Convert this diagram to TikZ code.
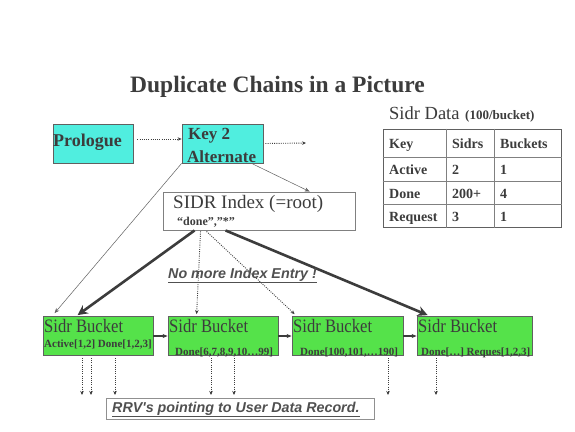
\documentclass[tikz,border=0pt]{standalone}
\usepackage{graphicx}
\usepackage{fontspec}
\setmainfont{Liberation Serif}
\newfontfamily\arialfont{Liberation Sans}
\usetikzlibrary{arrows.meta,calc}
\definecolor{txt}{HTML}{3C3C3C}
\definecolor{cyanfill}{HTML}{50EEDF}
\definecolor{greenfill}{HTML}{55E24A}
\definecolor{edge}{HTML}{606060}
\tikzset{
  cbox/.style={draw=edge, line width=0.8pt, fill=cyanfill, inner sep=0pt},
  gbox/.style={draw=edge, line width=0.8pt, fill=greenfill, inner sep=0pt, minimum height=39pt},
  wbox/.style={draw=edge!80, line width=0.9pt, fill=white, inner sep=0pt},
  lbl/.style={text=txt, inner sep=0pt, anchor=base west},
  btitle/.style={lbl, font=\fontsize{19}{20}\selectfont},
  bsub/.style={lbl, font=\fontsize{11}{12}\selectfont\bfseries},
  tcell/.style={lbl, font=\fontsize{14}{15}\selectfont\bfseries},
  dotarrow/.style={draw=txt, line width=0.9pt, dash pattern=on 0.9pt off 1.3pt, -{Stealth[length=4pt,width=3.5pt]}},
  thinarrow/.style={draw=edge, line width=0.5pt, -{Stealth[length=5pt,width=4pt]}},
  thickarrow/.style={draw=txt, line width=2.6pt, -{Stealth[length=10pt,width=10pt]}},
  linkarrow/.style={draw=txt, line width=1.3pt, -{Stealth[length=5pt,width=4pt]}},
  note/.style={lbl, text=txt!90, font=\arialfont\fontsize{14.3}{15}\selectfont\bfseries\itshape}
}
\newcommand{\bucketname}{\scalebox{0.875}[1]{Sidr Bucket}}
\begin{document}
\begin{tikzpicture}[x=1pt,y=-1pt]
\useasboundingbox[fill=white] (0,0) rectangle (575,431);

% title
\node[text=txt, inner sep=0pt, anchor=base, font=\fontsize{23.5}{25}\selectfont\bfseries] (title) at (277.5,92.7) {Duplicate Chains in a Picture};

% top boxes
\node[cbox, minimum width=80pt, minimum height=39pt] (pro) at (93,143.5) {};
\node[lbl, font=\fontsize{18}{19}\selectfont\bfseries] (prot) at (53,146) {Prologue};
\node[cbox, minimum width=81pt, minimum height=39pt] (key) at (222.5,143.5) {};
\node[lbl, font=\fontsize{17}{18}\selectfont\bfseries] (keyt1) at (188,139) {Key 2};
\node[lbl, font=\fontsize{17}{18}\selectfont\bfseries] (keyt2) at (187,162) {Alternate};

\coordinate (keyout) at (306,143);
\draw[dotarrow] ($(pro.east)+(4,-4.5)$) -- ($(key.west)+(0,-4.5)$);
\draw[dotarrow] ($(key.east)+(2,0)$) -- (keyout);

% SIDR index
\node[wbox, minimum width=192pt, minimum height=38pt] (sidx) at (259,211) {};
\node[lbl, font=\fontsize{19}{20}\selectfont] (sidxt) at (173,208) {SIDR Index (=root)};
\node[lbl, font=\fontsize{12}{13}\selectfont\bfseries] (sidxk) at (177,225) {“done”,”*”};

% Sidr data table
\node[lbl, font=\fontsize{18.5}{19}\selectfont] (sdt) at (389,119) {Sidr Data};
\node[lbl, font=\fontsize{13}{14}\selectfont\bfseries] (sdb) at (465,119) {(100/bucket)};
\node[draw=edge, line width=1pt, fill=white, inner sep=0pt, minimum width=178pt, minimum height=98pt] (tbl) at (472,178) {};
\foreach \yy in {157,181,204}{ \draw[edge!80, line width=0.7pt] (tbl.west |- 0,\yy) -- (tbl.east |- 0,\yy); }
\foreach \xx in {446,494}{ \draw[edge!80, line width=0.7pt] (tbl.north -| \xx,0) -- (tbl.south -| \xx,0); }
\node[tcell] (h1) at (389,148) {Key};
\node[tcell] (h2) at (452,148) {Sidrs};
\node[tcell] (h3) at (500,148) {Buckets};
\node[tcell] (r11) at (389,174) {Active};
\node[tcell] (r12) at (452,174) {2};
\node[tcell] (r13) at (500,174) {1};
\node[tcell] (r21) at (389,198) {Done};
\node[tcell] (r22) at (452,198) {200+};
\node[tcell] (r23) at (500,198) {4};
\node[tcell] (r31) at (389,221) {Request};
\node[tcell] (r32) at (452,221) {3};
\node[tcell] (r33) at (500,221) {1};

% buckets
\node[gbox, minimum width=110pt] (b1) at (98,336) {};
\node[gbox, minimum width=110pt] (b2) at (223,336) {};
\node[gbox, minimum width=111pt] (b3) at (347.5,336) {};
\node[gbox, minimum width=115pt] (b4) at (474.5,336) {};
\node[btitle] (b1t) at (44,332) {\bucketname};
\node[btitle] (b2t) at (169,332) {\bucketname};
\node[btitle] (b3t) at (293,332) {\bucketname};
\node[btitle] (b4t) at (418,332) {\bucketname};
\node[bsub] (b1s) at (44,347) {Active[1,2] Done[1,2,3]};
\node[bsub] (b2s) at (175,355) {Done[6,7,8,9,10…99]};
\node[bsub] (b3s) at (300,355) {Done[100,101,…190]};
\node[bsub] (b4s) at (421,355) {Done[…] Reques[1,2,3]};

\draw[linkarrow] (b1.east) -- (b2.west);
\draw[linkarrow] (b2.east) -- (b3.west);
\draw[linkarrow] (b3.east) -- (b4.west);

% key links
\draw[thinarrow] (key.south west) -- ($(b1.north west)+(12,-3)$);
\draw[thinarrow] ($(key.south west)+(70,0)$) -- ($(sidx.north west)+(147,0)$);

% index arrows
\draw[thickarrow] ($(sidx.south west)+(32,0)$) -- ($(b1.north west)+(35,-1)$);
\draw[thickarrow] ($(sidx.south west)+(63,0)$) -- ($(b4.north west)+(11,-1)$);
\draw[dotarrow] ($(sidx.south west)+(38,1)$) -- ($(b2.north west)+(29,-2)$);
\draw[dotarrow] ($(sidx.south west)+(44,1)$) -- ($(b3.north west)+(3,-2)$);

\node[note] (nomore) at (168,278) {\underline{No more Index Entry !}};

% RRV
\node[draw=edge!70, line width=1pt, fill=white, inner sep=0pt, minimum width=268pt, minimum height=21pt] (rrv) at (240,408.5) {};
\node[note] (rrvt) at (112,412) {\underline{RRV's pointing to User Data Record.}};

\coordinate (d1) at (82,395);
\coordinate (d2) at (91,395);
\coordinate (d3) at (115,395);
\coordinate (d4) at (211,395);
\coordinate (d5) at (234,395);
\coordinate (d6) at (388,395);
\coordinate (d7) at (436,395);
\draw[dotarrow] ($(b1.south -| d1)+(0,2)$) -- (d1);
\draw[dotarrow] ($(b1.south -| d2)+(0,2)$) -- (d2);
\draw[dotarrow] ($(b1.south -| d3)+(0,2)$) -- (d3);
\draw[dotarrow] ($(b2.south -| d4)+(0,2)$) -- (d4);
\draw[dotarrow] ($(b2.south -| d5)+(0,2)$) -- (d5);
\draw[dotarrow] ($(b3.south -| d6)+(0,2)$) -- (d6);
\draw[dotarrow] ($(b4.south -| d7)+(0,2)$) -- (d7);
\end{tikzpicture}
\end{document}
